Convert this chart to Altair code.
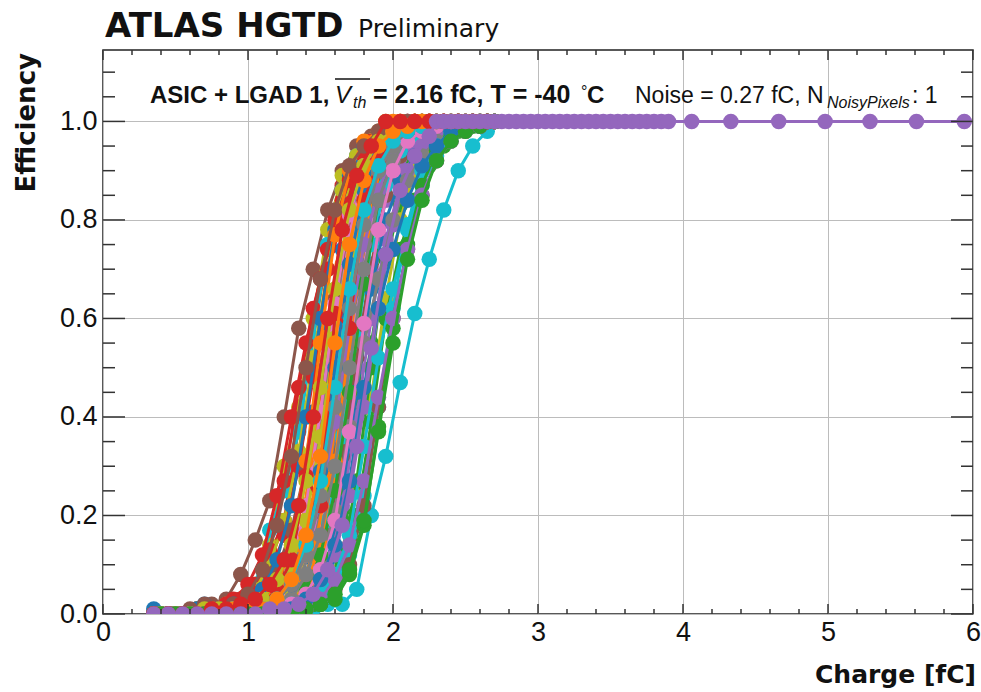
import altair as alt
import pandas as pd

# scan charges (fC): two interleaved scan grids used by the pixel S-curves
charge_a = [0.35, 0.45, 0.55, 0.65, 0.75, 0.85, 0.95, 1.05, 1.15, 1.25, 1.35, 1.45,
            1.55, 1.65, 1.75, 1.85, 1.95, 2.05, 2.15, 2.25, 2.35, 2.45, 2.55, 2.65]
charge_b = [0.40, 0.50, 0.60, 0.70, 0.80, 0.90, 1.00, 1.10, 1.20, 1.30, 1.40, 1.50,
            1.60, 1.70, 1.80, 1.90, 2.00, 2.10, 2.20, 2.30, 2.40, 2.50, 2.60, 2.70]

# efficiency per pixel on grid A
pixel_00 = [0,0,0,0,0,0,.01,.01,.02,.05,.09,.2,.36,.56,.75,.87,.94,.97,.99,1,1,1,1,1]
pixel_01 = [0,0,0,0,0,0,.01,.01,.03,.06,.14,.29,.5,.71,.86,.94,.97,.99,1,1,1,1,1,1]
pixel_02 = [0,0,0,0,0,0,0,0,0,.01,.01,.035,.09,.21,.43,.67,.85,.94,.97,.99,1,1,1,1]
pixel_03 = [0,0,0,0,.01,.01,.02,.05,.12,.19,.38,.56,.74,.87,.93,.96,.98,.99,1,1,1,1,1,1]
pixel_04 = [0,0,0,0,0,0,0,0,.01,.01,.02,.06,.15,.33,.57,.79,.91,.96,.98,1,1,1,1,1]
pixel_05 = [0,0,0,.01,.02,.03,.08,.15,.23,.40,.58,.70,.82,.90,.95,.97,.99,1,1,1,1,1,1,1]
pixel_06 = [0,0,0,0,0,0,0,.01,.01,.02,.04,.11,.25,.48,.71,.87,.95,.98,.99,1,1,1,1,1]
pixel_07 = [0,0,0,0,0,.01,.01,.01,.02,.05,.11,.22,.4,.6,.78,.89,.95,.98,.99,1,1,1,1,1]
pixel_08 = [0,0,0,.01,.01,.02,.03,.06,.14,.30,.42,.6,.78,.89,.93,.96,1,1,1,1,1,1,1,1]
pixel_09 = [0,0,0,0,.01,.01,.03,.06,.17,.25,.37,.56,.75,.86,.93,.96,.98,.99,1,1,1,1,1,1]
pixel_10 = [.01,0,0,0,0,.01,.01,.02,.02,.03,.06,.11,.25,.43,.65,.82,.92,.96,.98,1,1,1,1,1]
pixel_11 = [0,0,0,0,0,0,.01,.01,.02,.06,.15,.33,.57,.79,.91,.96,.98,1,1,1,1,1,1,1]
pixel_12 = [0,0,0,0,0,0,0,0,.01,.01,.02,.03,.08,.19,.34,.55,.72,.83,.9,.95,.97,.99,1,1]
pixel_13 = [0,0,0,0,.01,.02,.03,.04,.11,.18,.30,.50,.44,.64,.82,.90,.95,.98,1,1,1,1,1,1]
pixel_14 = [0,0,0,0,0,0,0,.01,.01,.02,.03,.08,.16,.30,.50,.70,.84,.92,.97,.98,1,1,1,1]
pixel_15 = [0,0,0,.01,.01,.01,.02,.02,.03,.05,.1,.19,.33,.52,.7,.84,.92,.96,.98,.99,.99,1,1,1]
pixel_16 = [0,0,0,0,0,0,0,0,.01,.02,.04,.09,.2,.39,.61,.8,.91,.96,.98,1,1,1,1,1]
pixel_17 = [0,0,0,0,.01,.01,.01,.02,.03,.07,.15,.29,.48,.68,.83,.92,.96,.98,.99,1,1,1,1,1]
pixel_18 = [0,0,0,0,0,0,0,0,.01,.01,.02,.03,.06,.13,.25,.44,.64,.8,.9,.95,.98,.99,1,1]
pixel_19 = [0,0,0,0,0,0,0,0,0,.01,.01,.01,.02,.02,.05,.2,.32,.47,.61,.72,.82,.9,.95,.98]
pixel_20 = [0,0,0,.01,.01,.01,.02,.04,.07,.11,.22,.41,.59,.74,.86,.92,.96,.98,.99,1,1,1,1,1]
pixel_21 = [0,0,0,0,0,.01,.01,.01,.02,.03,.08,.18,.38,.62,.82,.92,.97,.99,1,1,1,1,1,1]
pixel_22 = [0,0,0,0,0,0,0,0,0,0,.01,.02,.05,.12,.27,.5,.73,.88,.95,.98,.99,1,1,1]
pixel_23 = [0,0,0,0,.01,.01,.02,.06,.13,.27,.46,.62,.74,.84,.9,.94,.97,.99,1,1,1,1,1,1]
pixel_24 = [0,0,0,0,0,0,0,.01,.01,.02,.03,.06,.11,.22,.4,.6,.76,.87,.94,.97,.98,.99,1,1]
pixel_25 = [0,0,0,0,0,0,.01,.01,.02,.02,.04,.08,.17,.32,.52,.71,.85,.93,.97,.98,.99,1,1,1]
pixel_26 = [0,0,0,0,0,0,0,.01,.01,.03,.08,.18,.35,.57,.76,.89,.95,.98,.99,1,1,1,1,1]
pixel_27 = [0,0,0,0,0,.01,.01,.01,.02,.03,.07,.14,.27,.46,.66,.82,.91,.96,.98,.99,1,1,1,1]
pixel_28 = [0,0,0,0,.01,.01,.02,.05,.1,.19,.33,.52,.7,.86,.93,.96,.98,.99,1,1,1,1,1,1]
pixel_29 = [0,0,0,0,0,0,0,.01,.01,.02,.045,.09,.19,.36,.56,.75,.87,.94,.97,.98,.99,1,1,1]
pixel_30 = [0,0,0,0,0,0,0,.01,.01,.01,.02,.05,.11,.25,.45,.66,.8,.88,.93,.96,.98,.99,1,1]
pixel_31 = [0,0,0,0,0,0,0,0,.01,.02,.05,.12,.27,.5,.73,.88,.95,.98,.99,1,1,1,1,1]
pixel_32 = [0,0,0,0,0,0,0,0,0,.01,.01,.02,.04,.1,.2,.39,.6,.74,.84,.91,.95,.98,.99,1]
pixel_33 = [0,0,0,0,.01,.02,.02,.04,.08,.16,.3,.48,.7,.8,.9,.96,.98,.99,1,1,1,1,1,1]

# efficiency per pixel on grid B
pixel_34 = [0,0,0,0,0,0,0,0,.01,.01,.03,.06,.12,.24,.42,.62,.79,.9,.95,.98,.99,1,1,1]
pixel_35 = [0,0,0,.01,.01,.01,.02,.05,.09,.17,.3,.46,.64,.78,.88,.94,.97,.98,.99,1,1,1,1,1]
pixel_36 = [0,0,0,0,0,0,.01,.01,.02,.06,.14,.31,.55,.77,.9,.96,.98,1,1,1,1,1,1,1]
pixel_37 = [0,0,0,0,0,0,0,.01,.01,.02,.05,.1,.21,.38,.55,.68,.8,.88,.93,.96,.98,.99,1,1]
pixel_38 = [0,0,0,0,.01,.01,.01,.01,.02,.05,.12,.25,.45,.67,.84,.93,.97,.99,1,1,1,1,1,1]
pixel_39 = [0,0,0,0,0,0,0,0,0,.01,.01,.03,.06,.12,.24,.42,.62,.79,.9,.95,.98,.99,.99,1]
pixel_40 = [0,0,0,.02,.01,.01,.02,.05,.11,.22,.4,.6,.78,.89,.95,.98,.99,1,1,1,1,1,1,1]
pixel_41 = [0,0,0,0,0,0,0,.01,.01,.02,.06,.14,.31,.55,.77,.9,.96,.98,1,1,1,1,1,1]
pixel_42 = [0,0,0,0,0,0,0,.01,.01,.02,.05,.12,.25,.45,.67,.84,.93,.97,.99,1,1,1,1,1]
pixel_43 = [0,0,0,.01,.01,.03,.06,.12,.24,.4,.55,.68,.8,.88,.93,.96,.98,.99,1,1,1,1,1,1]
pixel_44 = [0,0,0,0,0,.01,.01,.01,.03,.06,.12,.23,.39,.58,.75,.86,.93,.97,.98,.99,1,1,1,1]
pixel_45 = [0,0,0,0,0,0,0,0,.01,.01,.01,.02,.05,.1,.22,.42,.6,.74,.85,.92,.96,.98,.99,1]
pixel_46 = [0,0,0,0,0,0,.01,.02,.04,.1,.22,.41,.63,.81,.91,.96,.98,1,1,1,1,1,1,1]
pixel_47 = [0,0,0,0,0,0,.01,.01,.02,.03,.08,.16,.3,.5,.7,.84,.92,.97,.98,.99,1,1,1,1]
pixel_48 = [0,0,0,0,.01,.01,.01,.02,.05,.1,.19,.36,.56,.75,.87,.94,.97,.99,1,1,1,1,1,1]
pixel_49 = [0,0,0,0,0,0,0,.01,.01,.02,.03,.04,.08,.16,.34,.52,.66,.78,.87,.93,.97,.99,1,1]
pixel_50 = [0,0,0,0,.01,.02,.01,.01,.03,.06,.14,.29,.5,.71,.86,.94,.97,.99,1,1,1,1,1,1]
pixel_51 = [0,0,0,0,0,.01,.01,.02,.06,.14,.31,.55,.77,.9,.96,.98,1,1,1,1,1,1,1,1]
pixel_52 = [0,0,0,0,0,0,0,0,0,.01,.01,.02,.03,.08,.18,.38,.58,.75,.87,.94,.97,.99,1,1]
pixel_53 = [0,0,0,0,.01,.01,.02,.02,.05,.11,.28,.22,.61,.58,.84,.92,.96,.98,.99,1,1,1,1,1]
pixel_54 = [0,0,0,0,0,0,0,0,0,.01,.01,.03,.07,.14,.27,.44,.6,.74,.85,.92,.96,.98,.99,1]
pixel_55 = [0,0,.01,.02,.01,.02,.04,.09,.18,.32,.5,.68,.82,.91,.95,.98,.99,1,1,1,1,1,1,1]
pixel_56 = [0,0,0,0,0,0,0,0,.01,.02,.04,.09,.19,.37,.59,.78,.9,.96,.98,.99,1,1,1,1]
pixel_57 = [0,0,0,0,0,.01,.01,.01,.03,.06,.12,.24,.42,.62,.79,.9,.95,.98,.99,1,1,1,1,1]
pixel_58 = [0,0,0,.01,.01,.01,.01,.03,.07,.14,.27,.46,.66,.82,.91,.96,.98,.99,1,1,1,1,1,1]
pixel_59 = [0,0,0,0,0,.01,.01,.01,.03,.07,.14,.27,.46,.66,.82,.91,.96,.98,.99,1,1,1,1,1]
pixel_60 = [0,0,0,0,0,0,0,0,.01,.01,.03,.07,.14,.27,.46,.62,.74,.84,.91,.95,.98,.99,1,1]
pixel_61 = [0,0,0,0,0,.01,.01,.01,.03,.07,.16,.32,.55,.75,.88,.95,.98,.99,1,1,1,1,1,1]
pixel_62 = [0,0,0,0,0,0,0,0,0,0,.01,.02,.04,.09,.19,.37,.55,.72,.84,.92,.96,.98,.99,1]

# grid A again
pixel_63 = [0,0,0,0,.01,.01,.02,.03,.06,.11,.22,.4,.6,.78,.89,.95,1,1,1,1,1,1,1,1]

# last pixel: full scan up to 6 fC
charge_64 = [0.35, 0.45, 0.55, 0.65, 0.75, 0.85, 0.95, 1.05, 1.15, 1.25, 1.35, 1.45,
             1.55, 1.65, 1.75, 1.85, 1.95, 2.05, 2.15, 2.25,
             2.3, 2.35, 2.4, 2.45, 2.5, 2.55, 2.6, 2.65, 2.7, 2.75, 2.8, 2.85, 2.9,
             2.95, 3.0, 3.05, 3.1, 3.15, 3.2, 3.25, 3.3, 3.35, 3.4, 3.45, 3.5, 3.55,
             3.6, 3.65, 3.7, 3.75, 3.8, 3.85, 3.9,
             4.06, 4.33, 4.66, 4.98, 5.29, 5.61, 5.94]
pixel_64 = [0,0,0,0,0,0,0,0,.01,.01,.02,.04,.09,.18,.34,.54,.73,.86,.93,.97,
            1,1,1,1,1,1,1,1,1,1,1,1,1,1,1,1,1,1,1,1,1,1,1,1,1,1,1,1,1,1,1,1,1,
            1,1,1,1,1,1,1]

grid_a_pixels = [pixel_00, pixel_01, pixel_02, pixel_03, pixel_04, pixel_05, pixel_06,
                 pixel_07, pixel_08, pixel_09, pixel_10, pixel_11, pixel_12, pixel_13,
                 pixel_14, pixel_15, pixel_16, pixel_17, pixel_18, pixel_19, pixel_20,
                 pixel_21, pixel_22, pixel_23, pixel_24, pixel_25, pixel_26, pixel_27,
                 pixel_28, pixel_29, pixel_30, pixel_31, pixel_32, pixel_33]
grid_b_pixels = [pixel_34, pixel_35, pixel_36, pixel_37, pixel_38, pixel_39, pixel_40,
                 pixel_41, pixel_42, pixel_43, pixel_44, pixel_45, pixel_46, pixel_47,
                 pixel_48, pixel_49, pixel_50, pixel_51, pixel_52, pixel_53, pixel_54,
                 pixel_55, pixel_56, pixel_57, pixel_58, pixel_59, pixel_60, pixel_61,
                 pixel_62]

palette = ["#1f77b4", "#ff7f0e", "#2ca02c", "#d62728", "#9467bd",
           "#8c564b", "#e377c2", "#7f7f7f", "#bcbd22", "#17becf"]

x_major = [0, 1, 2, 3, 4, 5, 6]
x_minor = [0.2, 0.4, 0.6, 0.8, 1.2, 1.4, 1.6, 1.8, 2.2, 2.4, 2.6, 2.8, 3.2, 3.4,
           3.6, 3.8, 4.2, 4.4, 4.6, 4.8, 5.2, 5.4, 5.6, 5.8]
y_major = [0.0, 0.2, 0.4, 0.6, 0.8, 1.0]
y_minor = [0.05, 0.1, 0.15, 0.25, 0.3, 0.35, 0.45, 0.5, 0.55, 0.65, 0.7, 0.75,
           0.85, 0.9, 0.95, 1.05, 1.1]

W, H = 870, 564
xs = alt.Scale(domain=[0, 6], nice=False, zero=False)
ys = alt.Scale(domain=[0, 1.145], nice=False, zero=False)
TICKFONT = "Liberation Sans Narrow, Liberation Sans, Arial"
INK = "#111111"

x_axis = alt.Axis(values=x_major, format="d", title="", ticks=False, domain=False,
                  grid=True, gridColor="#bcbcbc", gridWidth=1, labelFont=TICKFONT,
                  labelFontSize=27, labelColor=INK, labelPadding=5,
                  labelFlush=False, labelOverlap=False)
y_axis = alt.Axis(values=y_major, format=".1f", title="", ticks=False, domain=False,
                  grid=True, gridColor="#bcbcbc", gridWidth=1, labelFont=TICKFONT,
                  labelFontSize=27, labelColor=INK, labelPadding=6,
                  labelOverlap=False)

layers = []


def curve_layer(qs, es, color):
    d = pd.DataFrame({"q": qs, "e": es})
    base = alt.Chart(d).encode(
        x=alt.X("q:Q", scale=xs, axis=x_axis),
        y=alt.Y("e:Q", scale=ys, axis=y_axis))
    return alt.layer(
        base.mark_line(color=color, strokeWidth=3, clip=True),
        base.mark_circle(color=color, size=240, opacity=1, clip=True))


idx = 0
for eff in grid_a_pixels:
    layers.append(curve_layer(charge_a, eff, palette[idx % 10]))
    idx += 1
for eff in grid_b_pixels:
    layers.append(curve_layer(charge_b, eff, palette[idx % 10]))
    idx += 1
layers.append(curve_layer(charge_a, pixel_63, palette[63 % 10]))
layers.append(curve_layer(charge_64, pixel_64, palette[64 % 10]))


# inside ticks on all four sides
def yticks(vals, x0, x1):
    return alt.Chart(pd.DataFrame({"v": vals})).mark_rule(
        color="#333333", strokeWidth=1.5).encode(
        y=alt.Y("v:Q", scale=ys, axis=y_axis), x=alt.value(x0), x2=alt.value(x1))


def xticks(vals, y0, y1):
    return alt.Chart(pd.DataFrame({"v": vals})).mark_rule(
        color="#333333", strokeWidth=1.5).encode(
        x=alt.X("v:Q", scale=xs, axis=x_axis), y=alt.value(y0), y2=alt.value(y1))


layers += [
    yticks(y_major, 0, 22), yticks(y_minor, 0, 12),
    yticks(y_major, W - 22, W), yticks(y_minor, W - 12, W),
    xticks(x_major, H - 10, H), xticks(x_minor, H - 5, H),
    xticks(x_major, 0, 10), xticks(x_minor, 0, 5),
]

one = pd.DataFrame({"a": [0]})


def txt(s, x, y, size, font="Liberation Sans, Arial", weight="normal",
        style="normal", align="left", angle=0):
    return alt.Chart(one).mark_text(
        text=s, font=font, fontSize=size, fontWeight=weight, fontStyle=style,
        align=align, baseline="alphabetic", angle=angle, color=INK).encode(
        x=alt.value(x), y=alt.value(y))


BIG = "DejaVu Sans"
layers += [
    txt("ATLAS HGTD", 2, -13, 34, font=BIG, weight="bold"),
    txt("Preliminary", 255, -13, 25, font=BIG),
    txt("Efficiency", -68, 3, 26, font=BIG, weight="bold", align="right", angle=270),
    txt("Charge [fC]", 873, 633, 25, font=BIG, weight="bold", align="right"),
    txt("ASIC + LGAD 1,", 47, 53, 24, weight="bold"),
    txt("V", 232, 53, 24, style="italic"),
    txt("th", 250, 58, 16, style="italic"),
    txt("= 2.16 fC, T = -40", 270, 53, 25, weight="bold"),
    txt("\u00b0", 478, 47, 16),
    txt("C", 484, 53, 24, weight="bold"),
    txt("Noise = 0.27 fC, N", 532, 53, 23),
    txt("NoisyPixels", 724, 58, 16, style="italic"),
    txt(": 1", 809, 53, 23),
    alt.Chart(one).mark_rule(color=INK, strokeWidth=1.3).encode(
        x=alt.value(232), x2=alt.value(267), y=alt.value(29)),
]

chart = alt.layer(*layers).properties(
    width=W, height=H,
    autosize=alt.AutoSizeParams(type="none"),
    padding={"left": 103, "top": 50, "right": 8, "bottom": 78},
).configure_view(stroke="#222222", strokeWidth=1.5)

chart.save("out.html", embed_options={"renderer": "svg", "actions": False})
